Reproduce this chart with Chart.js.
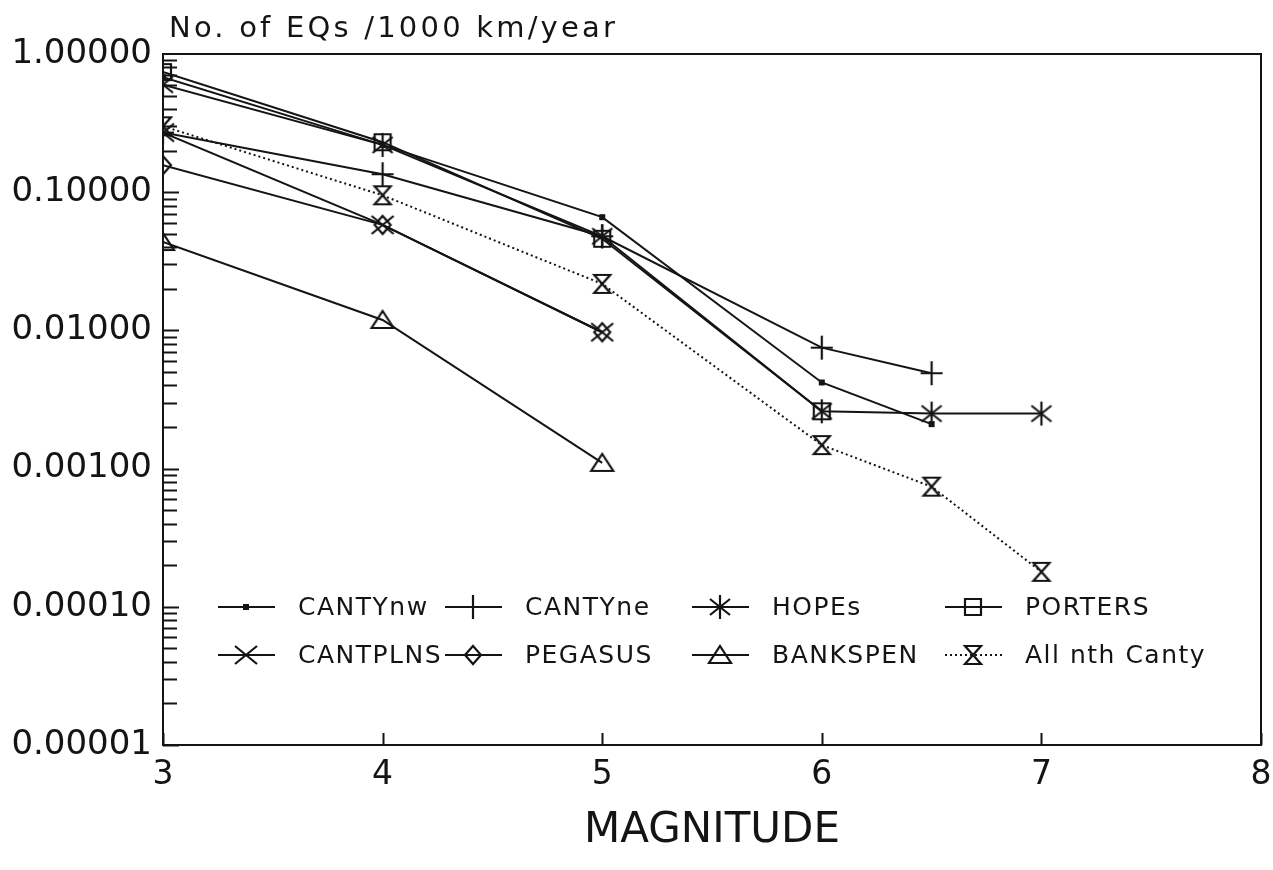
<!DOCTYPE html>
<html><head><meta charset="utf-8">
<script src="https://cdn.jsdelivr.net/npm/chart.js@4.4.1/dist/chart.umd.min.js"></script>
<style>html,body{margin:0;padding:0;background:#fff;} canvas{display:block;}</style>
</head><body>
<canvas id="c" width="1273" height="870"></canvas>
<script>
// ---------------- data ----------------
const seriesNames = ['CANTYnw','CANTYne','HOPEs','PORTERS','CANTPLNS','PEGASUS','BANKSPEN','All nth Canty'];

const magCANTYnw  = [3, 4, 5, 6, 6.5];
const rateCANTYnw = [0.68, 0.22, 0.066, 0.0042, 0.0021];

const magCANTYne  = [3, 4, 5, 6, 6.5];
const rateCANTYne = [0.27, 0.135, 0.048, 0.0075, 0.0049];

const magHOPEs  = [3, 4, 5, 6, 6.5, 7];
const rateHOPEs = [0.60, 0.22, 0.048, 0.0026, 0.0025, 0.0025];

const magPORTERS  = [3, 4, 5, 6];
const ratePORTERS = [0.74, 0.23, 0.046, 0.0026];

const magCANTPLNS  = [3, 4, 5];
const rateCANTPLNS = [0.27, 0.058, 0.0097];

const magPEGASUS  = [3, 4, 5];
const ratePEGASUS = [0.157, 0.058, 0.0097];

const magBANKSPEN  = [3, 4, 5];
const rateBANKSPEN = [0.0436, 0.0119, 0.0011];

const magAllNth  = [3, 4, 5, 6, 6.5, 7];
const rateAllNth = [0.30, 0.095, 0.0217, 0.00148, 0.00074, 0.000179];

const xTickValues = [3, 4, 5, 6, 7, 8];
const yTickValues = [1, 0.1, 0.01, 0.001, 0.0001, 0.00001];
const yTickLabels = ['1.00000', '0.10000', '0.01000', '0.00100', '0.00010', '0.00001'];
const xAxisTitle = 'MAGNITUDE';
const yAxisTitle = 'No. of EQs /1000 km/year';

// ---------------- styling ----------------
const INK = '#141414';
const FONT = '"DejaVu Sans", "Liberation Sans", sans-serif';

function makeMarker(kind) {
  const s = 32;
  const c = document.createElement('canvas');
  c.width = s; c.height = s;
  const g = c.getContext('2d');
  g.strokeStyle = INK; g.fillStyle = INK; g.lineWidth = 2.2;
  g.translate(s / 2, s / 2);
  g.beginPath();
  switch (kind) {
    case 'dot': g.fillRect(-3, -3, 6, 6); break;
    case 'plus': g.moveTo(-11, 0); g.lineTo(11, 0); g.moveTo(0, -12); g.lineTo(0, 12); break;
    case 'asterisk': g.moveTo(0, -12); g.lineTo(0, 12); g.moveTo(-10, -8); g.lineTo(10, 8); g.moveTo(-10, 8); g.lineTo(10, -8); break;
    case 'square': g.rect(-8, -8, 16, 16); break;
    case 'x': g.moveTo(-11, -9); g.lineTo(11, 9); g.moveTo(-11, 9); g.lineTo(11, -9); break;
    case 'diamond': g.moveTo(0, -9); g.lineTo(8, 0); g.lineTo(0, 9); g.lineTo(-8, 0); g.closePath(); break;
    case 'triangle': g.moveTo(0, -9); g.lineTo(11, 8); g.lineTo(-11, 8); g.closePath(); break;
    case 'hourglass': g.moveTo(-8, -9); g.lineTo(8, -9); g.lineTo(-8, 9); g.lineTo(8, 9); g.closePath(); break;
  }
  g.stroke();
  return c;
}

const markerKinds = ['dot', 'plus', 'asterisk', 'square', 'x', 'diamond', 'triangle', 'hourglass'];
const dashes = [[], [], [], [], [], [], [], [2, 3]];
const mags = [magCANTYnw, magCANTYne, magHOPEs, magPORTERS, magCANTPLNS, magPEGASUS, magBANKSPEN, magAllNth];
const rates = [rateCANTYnw, rateCANTYne, rateHOPEs, ratePORTERS, rateCANTPLNS, ratePEGASUS, rateBANKSPEN, rateAllNth];

const datasets = seriesNames.map((name, i) => {
  const marker = makeMarker(markerKinds[i]);
  return {
    label: name,
    data: mags[i].map((m, j) => ({ x: m, y: rates[i][j] })),
    borderColor: INK,
    backgroundColor: INK,
    borderWidth: 2,
    borderDash: dashes[i],
    pointStyle: marker,
    pointRadius: 10,
    pointHoverRadius: 10,
    tension: 0,
    fill: false,
    _marker: marker
  };
});

// legend layout (pixel positions of each column's sample line start, row centres)
const legendCols = [218, 445, 692, 945];
const legendRows = [607, 655];

const framePlugin = {
  id: 'frame',
  beforeDatasetsDraw(chart) {
    const { ctx, chartArea: a, scales: { x, y } } = chart;
    ctx.save();
    ctx.strokeStyle = INK;
    ctx.lineWidth = 2;
    ctx.strokeRect(a.left, a.top, a.right - a.left, a.bottom - a.top);
    ctx.beginPath();
    for (let e = -5; e < 0; e++) {
      for (let k = 1; k <= 9; k++) {
        const v = k * Math.pow(10, e);
        const py = Math.round(y.getPixelForValue(v)) + 0.5;
        const len = (k === 1) ? 16 : 14;
        ctx.moveTo(a.left, py); ctx.lineTo(a.left + len, py);
      }
    }
    xTickValues.forEach(v => {
      const px = Math.round(x.getPixelForValue(v)) + 0.5;
      ctx.moveTo(px, a.bottom); ctx.lineTo(px, a.bottom - 12);
    });
    ctx.stroke();
    ctx.restore();
  },
  afterDraw(chart) {
    const { ctx, chartArea: a } = chart;
    ctx.save();
    ctx.fillStyle = INK;
    ctx.font = '29px ' + FONT;
    try { ctx.letterSpacing = '3.2px'; } catch (e) {}
    ctx.textAlign = 'left';
    ctx.textBaseline = 'middle';
    ctx.fillText(yAxisTitle, a.left + 6, 29);
    ctx.font = '25px ' + FONT;
    try { ctx.letterSpacing = '1.5px'; } catch (e) {}
    chart.data.datasets.forEach((ds, i) => {
      const col = i % 4, row = Math.floor(i / 4);
      const sx = legendCols[col], sy = legendRows[row];
      ctx.beginPath();
      ctx.setLineDash(ds.borderDash);
      ctx.lineWidth = 2;
      ctx.strokeStyle = INK;
      ctx.moveTo(sx, sy); ctx.lineTo(sx + 57, sy);
      ctx.stroke();
      ctx.setLineDash([]);
      const m = ds._marker;
      ctx.drawImage(m, sx + 28 - m.width / 2, sy - m.height / 2);
      ctx.fillText(ds.label, sx + 80, sy + 1);
    });
    try { ctx.letterSpacing = '0px'; } catch (e) {}
    ctx.restore();
  }
};

new Chart(document.getElementById('c'), {
  type: 'line',
  data: { datasets },
  options: {
    responsive: false,
    animation: false,
    devicePixelRatio: 1,
    layout: { padding: { top: 54, right: 12, bottom: 0, left: 0 } },
    plugins: { legend: { display: false }, tooltip: { enabled: false }, title: { display: false } },
    scales: {
      x: {
        type: 'linear', min: 3, max: 8,
        afterBuildTicks: s => { s.ticks = xTickValues.map(v => ({ value: v })); },
        afterFit: s => { s.height = 125; s.paddingRight = 0; s.paddingLeft = 0; },
        ticks: { font: { family: FONT, size: 33 }, color: INK, padding: 11, autoSkip: false, maxRotation: 0,
                 callback: v => String(v) },
        grid: { display: false, drawTicks: false },
        border: { display: false },
        title: { display: true, text: xAxisTitle, color: INK, font: { family: FONT, size: 42 },
                 padding: { top: 0, bottom: 14 } }
      },
      y: {
        type: 'logarithmic', min: 0.00001, max: 1,
        afterBuildTicks: s => { s.ticks = yTickValues.map(v => ({ value: v })); },
        afterFit: s => { s.width = 163; },
        ticks: { font: { family: FONT, size: 34 }, color: INK, padding: 11, autoSkip: false,
                 callback: v => {
                   const i = yTickValues.findIndex(t => Math.abs(Math.log10(t) - Math.log10(v)) < 1e-6);
                   return i >= 0 ? yTickLabels[i] : '';
                 } },
        grid: { display: false, drawTicks: false },
        border: { display: false }
      }
    }
  },
  plugins: [framePlugin]
});
</script>
</body></html>
